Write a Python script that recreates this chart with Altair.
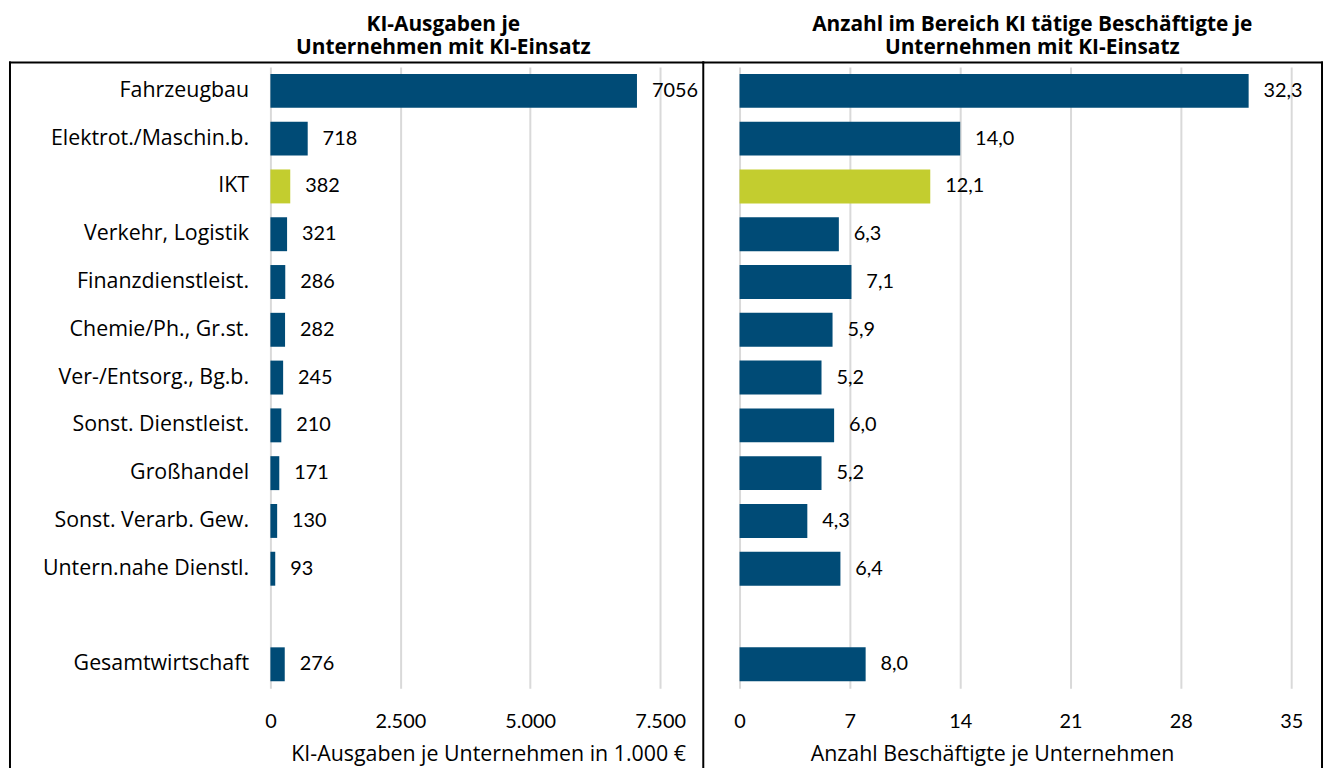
import altair as alt
import pandas as pd

FONT = "Open Sans"
NUMFONT = "Lato"
BLUE = "#004b76"
GREEN = "#c3cd2f"

categories = ["Fahrzeugbau", "Elektrot./Maschin.b.", "IKT", "Verkehr, Logistik",
              "Finanzdienstleist.", "Chemie/Ph., Gr.st.", "Ver-/Entsorg., Bg.b.",
              "Sonst. Dienstleist.", "Großhandel", "Sonst. Verarb. Gew.",
              "Untern.nahe Dienstl.", "Gesamtwirtschaft"]
ausgaben = [7056, 718, 382, 321, 286, 282, 245, 210, 171, 130, 93, 276]
beschaeftigte = [32.3, 14.0, 12.1, 6.3, 7.1, 5.9, 5.2, 6.0, 5.2, 4.3, 6.4, 8.0]
highlight = ["IKT"]
gap = " "
order = categories[:-1] + [gap] + categories[-1:]

left_ticks = [0, 2500, 5000, 7500]
right_ticks = [0, 7, 14, 21, 28, 35]

df = pd.DataFrame({
    "cat": categories,
    "ausgaben": ausgaben,
    "besch": beschaeftigte,
    "grp": ["hl" if c in highlight else "std" for c in categories],
})
frame_df = pd.DataFrame({"k": [0]})

color = alt.Color("grp:N", scale=alt.Scale(domain=["hl", "std"], range=[GREEN, BLUE]), legend=None)
yscale = alt.Scale(domain=order, paddingInner=0.29, paddingOuter=0.145)

W_L, W_R, H = 392, 555, 625
TOP = -4.5
BOTTOM = 705


def xaxis(values, title, title_x, label_expr=None):
    kw = dict(values=values, title=title, grid=True, gridColor="#d9d9d9", gridWidth=2,
              domain=False, ticks=False, labelFontSize=20, labelFont=NUMFONT, labelColor="black",
              labelPadding=24, titleFontSize=21.5, titleFont=FONT, titleFontWeight="normal",
              titleColor="black", titleX=title_x, titleY=73, titleAlign="center",
              titleBaseline="alphabetic", labelFlush=False)
    if label_expr:
        kw["labelExpr"] = label_expr
    return alt.Axis(**kw)


def rule(x, x2, y, y2):
    return alt.Chart(frame_df).mark_rule(color="black", strokeWidth=2, strokeCap="square").encode(
        x=alt.value(x), x2=alt.value(x2), y=alt.value(y), y2=alt.value(y2))


def title(lines, dx):
    return alt.TitleParams(lines, fontSize=21, fontWeight="bold", font=FONT, color="black",
                           anchor="middle", frame="group", dx=dx, offset=3, lineHeight=23)


# left panel
xl = alt.X("ausgaben:Q", scale=alt.Scale(domain=[0, 7500], nice=False),
           axis=xaxis(left_ticks, "KI-Ausgaben je Unternehmen in 1.000 €", 219,
                      "replace(format(datum.value, ','), ',', '.')"))
yl = alt.Y("cat:N", sort=order, scale=yscale,
           axis=alt.Axis(title=None, ticks=False, domain=False, labelPadding=22, labelLimit=400,
                         labelFontSize=21.5, labelFont=FONT, labelColor="black"))
bars_l = alt.Chart(df).mark_bar().encode(x=xl, y=yl, color=color)
text_l = alt.Chart(df).mark_text(align="left", baseline="middle", dx=15, fontSize=20,
                                 font=NUMFONT, color="black").encode(
    x="ausgaben:Q", y=alt.Y("cat:N", sort=order), text=alt.Text("ausgaben:Q", format="d"))
left = alt.layer(
    bars_l, text_l,
    rule(-262, -262, TOP, BOTTOM), rule(-262, 435.5, TOP, TOP), rule(435.5, 435.5, TOP, BOTTOM)
).properties(width=W_L, height=H,
             title=title(["KI-Ausgaben je", "Unternehmen mit KI-Einsatz"], -22))

# right panel
xr = alt.X("besch:Q", scale=alt.Scale(domain=[0, 35], nice=False),
           axis=xaxis(right_ticks, "Anzahl Beschäftigte je Unternehmen", 254))
yr = alt.Y("cat:N", sort=order, scale=yscale, axis=None)
bars_r = alt.Chart(df).mark_bar().encode(x=xr, y=yr, color=color)
text_r = alt.Chart(df).transform_calculate(
    lbl="replace(format(datum.besch, '.1f'), '.', ',')"
).mark_text(align="left", baseline="middle", dx=15, fontSize=20, font=NUMFONT,
            color="black").encode(x="besch:Q", y=alt.Y("cat:N", sort=order), text="lbl:N")
right = alt.layer(
    bars_r, text_r,
    rule(-36.5, 586, TOP, TOP), rule(586, 586, TOP, BOTTOM)
).properties(width=W_R, height=H,
             title=title(["Anzahl im Bereich KI tätige Beschäftigte je", "Unternehmen mit KI-Einsatz"], 17))

chart = alt.hconcat(left, right, spacing=80, bounds="flush").properties(
    padding={"top": 4, "left": 0, "right": 0, "bottom": 0}
).configure_view(strokeWidth=0)

chart.save("out.html", embed_options={"renderer": "svg", "actions": False})
